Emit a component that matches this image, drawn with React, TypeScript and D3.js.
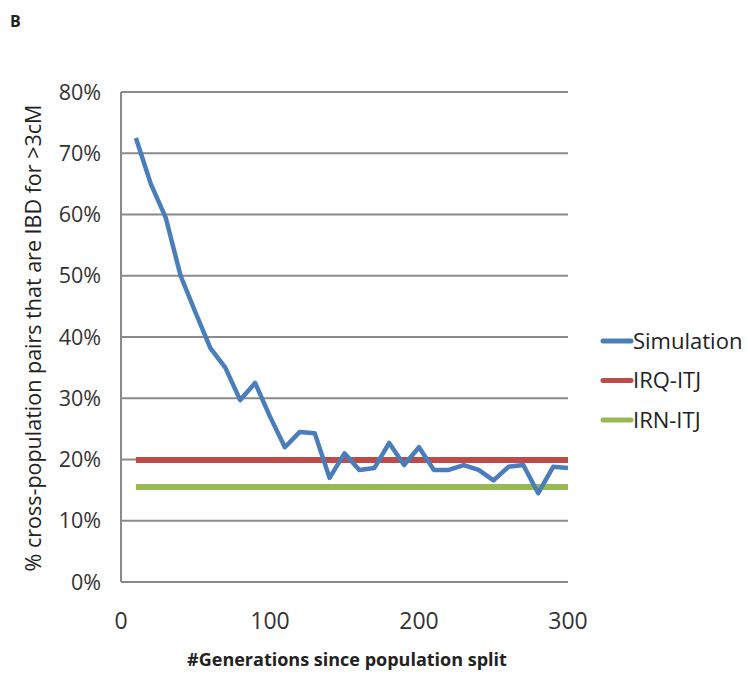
import React from "react";
import * as d3 from "d3";

const generations = [10, 20, 30, 40, 50, 60, 70, 80, 90, 100, 110, 120, 130, 140, 150, 160, 170, 180, 190, 200, 210, 220, 230, 240, 250, 260, 270, 280, 290, 300];
const simulation = [72.5, 65, 59.5, 50, 44, 38.2, 35, 29.7, 32.5, 27, 22, 24.5, 24.3, 17, 21, 18.3, 18.6, 22.7, 19.1, 22, 18.3, 18.3, 19.1, 18.3, 16.6, 18.8, 19.1, 14.5, 18.8, 18.6];
const irqItj = 19.9;
const irnItj = 15.5;
const yTicks = [0, 10, 20, 30, 40, 50, 60, 70, 80];
const xTicks = [0, 100, 200, 300];
const legendItems = [
  { name: "Simulation", color: "#4a7ebb" },
  { name: "IRQ-ITJ", color: "#be4b48" },
  { name: "IRN-ITJ", color: "#98b954" },
];

const App = () => {
  const width = 747,
    height = 673;
  const font = "'Open Sans', Lato, sans-serif";

  const x = d3.scaleLinear().domain([0, 300]).range([121, 568]);
  const y = d3.scaleLinear().domain([0, 80]).range([582, 92]);

  const line = d3
    .line<number>()
    .x((d, i) => x(generations[i]))
    .y((d) => y(d));

  const flat = (v: number) =>
    d3.line<number>().x((g) => x(g)).y(() => y(v))([generations[0], generations[generations.length - 1]]);

  return (
    <svg width={width} height={height} style={{ position: "absolute", left: 0, top: 0, background: "#fff" }}>
      <text x={10} y={27} fontFamily={font} fontWeight="bold" fontSize={16} fill="#222">B</text>

      {yTicks.map((t) => (
        <g key={t}>
          <line x1={x(0)} x2={x(300)} y1={y(t)} y2={y(t)} stroke="#8a8a8a" strokeWidth={2} />
          <text x={101} y={y(t)} dy="0.35em" textAnchor="end" fontFamily={font} fontSize={21.5} fill="#333">
            {t + "%"}
          </text>
        </g>
      ))}
      <line x1={x(0)} x2={x(0)} y1={y(80)} y2={y(0)} stroke="#8a8a8a" strokeWidth={2} />

      {xTicks.map((t) => (
        <text key={t} x={x(t)} y={621} dy="0.35em" textAnchor="middle" fontFamily={font} fontSize={23} fill="#333">
          {t}
        </text>
      ))}

      <text x={347} y={666} textAnchor="middle" fontFamily={font} fontWeight="bold" fontSize={18} fill="#222">
        #Generations since population split
      </text>
      <text
        transform="translate(41,338) rotate(-90)"
        textAnchor="middle"
        fontFamily={font}
        fontSize={21.5}
        fill="#222"
      >
        % cross-population pairs that are IBD for &gt;3cM
      </text>

      <path d={flat(irqItj) || ""} fill="none" stroke="#be4b48" strokeWidth={6} />
      <path d={flat(irnItj) || ""} fill="none" stroke="#98b954" strokeWidth={6} />
      <path d={line(simulation) || ""} fill="none" stroke="#4a7ebb" strokeWidth={4.5} strokeLinejoin="round" />

      {legendItems.map((it, i) => (
        <g key={it.name} transform={`translate(603,${341 + i * 39.5})`}>
          <line x1={0} x2={28} y1={0} y2={0} stroke={it.color} strokeWidth={5} strokeLinecap="round" />
          <text x={30} y={0} dy="0.35em" fontFamily={font} fontSize={22} fill="#222">
            {it.name}
          </text>
        </g>
      ))}
    </svg>
  );
};

export default App;
